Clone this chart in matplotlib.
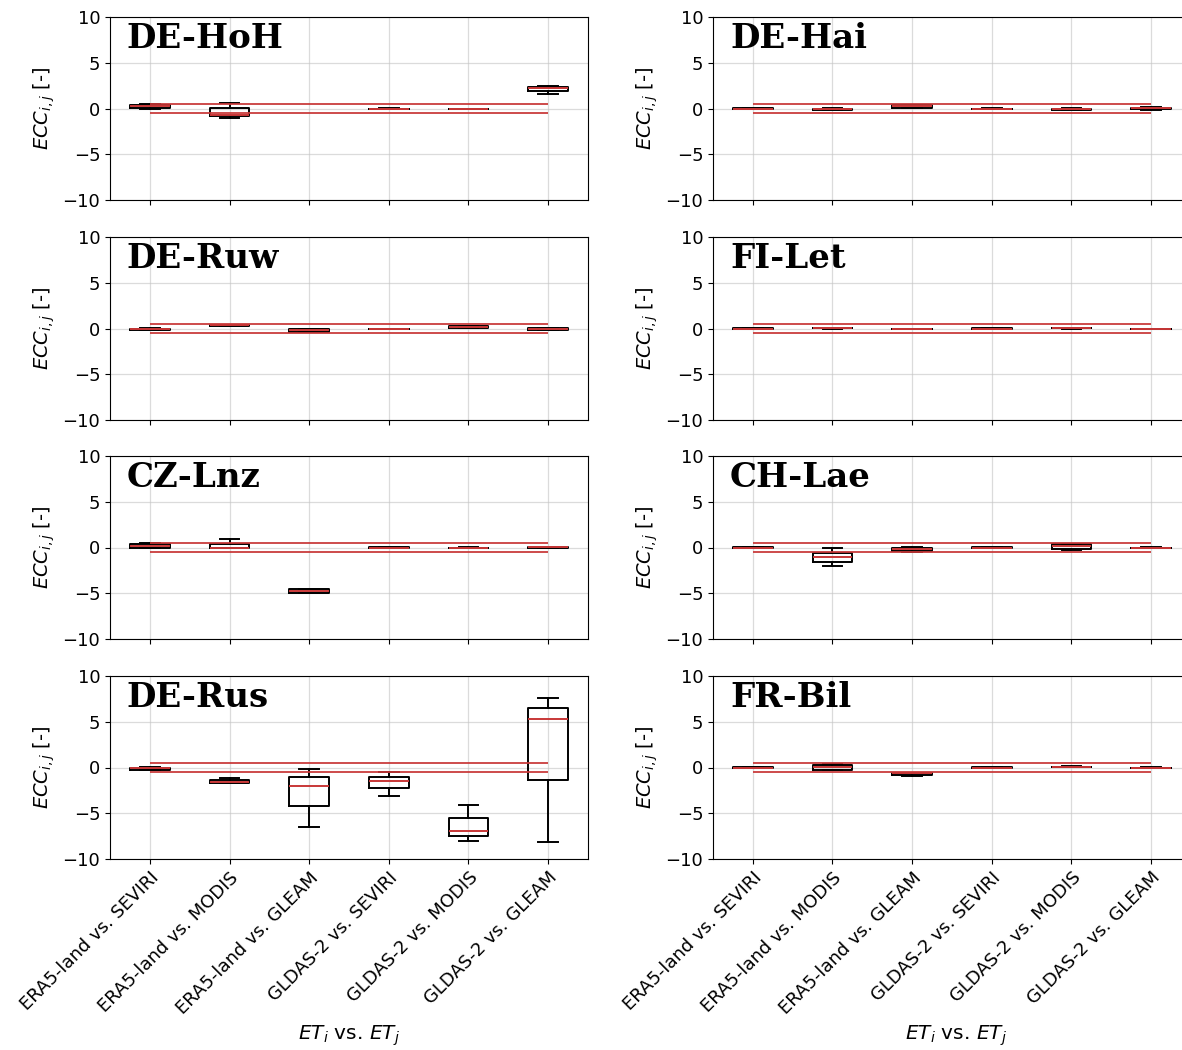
import numpy as np
import matplotlib.pyplot as plt

pairs = ['ERA5-land vs. SEVIRI', 'ERA5-land vs. MODIS', 'ERA5-land vs. GLEAM',
         'GLDAS-2 vs. SEVIRI', 'GLDAS-2 vs. MODIS', 'GLDAS-2 vs. GLEAM']

sites = ['DE-HoH', 'DE-Hai', 'DE-Ruw', 'FI-Let', 'CZ-Lnz', 'CH-Lae', 'DE-Rus', 'FR-Bil']

# box stats per site: (whislo, q1, med, q3, whishi) for each pair, None = no data
de_hoh = [(0.0, 0.1, 0.25, 0.4, 0.45), (-1.05, -0.85, -0.7, 0.05, 0.65), None,
          (-0.05, -0.03, -0.02, 0.0, 0.02), (-0.1, -0.07, -0.05, -0.03, 0.0),
          (1.6, 1.9, 2.28, 2.4, 2.45)]
de_hai = [(-0.08, -0.05, 0.0, 0.05, 0.08), (-0.18, -0.15, -0.07, 0.0, 0.03),
          (0.08, 0.1, 0.25, 0.36, 0.4), (-0.08, -0.05, -0.03, 0.0, 0.02),
          (-0.15, -0.12, -0.05, 0.0, 0.03), (-0.12, -0.1, 0.04, 0.1, 0.12)]
de_ruw = [(-0.18, -0.15, -0.07, 0.0, 0.03), (0.22, 0.25, 0.33, 0.4, 0.42),
          (-0.42, -0.38, -0.15, -0.07, -0.03), (-0.08, -0.06, -0.05, -0.02, 0.0),
          (0.08, 0.1, 0.15, 0.25, 0.28), (-0.18, -0.15, -0.05, 0.05, 0.08)]
fi_let = [(-0.04, -0.02, 0.0, 0.02, 0.04), (0.0, 0.02, 0.05, 0.08, 0.1),
          (-0.09, -0.07, -0.05, -0.03, -0.01), (-0.04, -0.02, 0.0, 0.02, 0.04),
          (0.0, 0.02, 0.05, 0.08, 0.1), (-0.09, -0.07, -0.05, -0.03, -0.01)]
cz_lnz = [(-0.05, -0.03, 0.15, 0.33, 0.5), (-0.1, -0.1, -0.05, 0.4, 0.95),
          (-4.95, -4.92, -4.73, -4.55, -4.5), (-0.04, -0.02, 0.0, 0.02, 0.04),
          (-0.05, -0.03, -0.02, 0.0, 0.02), (-0.08, -0.05, 0.05, 0.05, 0.08)]
ch_lae = [(-0.04, -0.02, 0.0, 0.02, 0.04), (-2.04, -1.6, -1.0, -0.58, -0.03),
          (-0.45, -0.4, -0.18, 0.0, 0.05), (-0.04, -0.02, 0.0, 0.02, 0.04),
          (-0.22, -0.18, 0.15, 0.33, 0.36), (-0.05, -0.04, -0.02, 0.0, 0.02)]
de_rus = [(-0.3, -0.25, -0.1, 0.0, 0.05), (-1.7, -1.65, -1.55, -1.35, -1.1),
          (-6.52, -4.25, -1.98, -1.06, -0.18), (-3.08, -2.27, -1.47, -0.99, -0.44),
          (-8.06, -7.51, -6.96, -5.49, -4.14), (-8.1, -1.36, 5.35, 6.48, 7.58)]
fr_bil = [(-0.08, -0.05, 0.0, 0.05, 0.08), (-0.25, -0.22, 0.05, 0.3, 0.33),
          (-0.9, -0.87, -0.65, -0.58, -0.55), (-0.04, -0.02, 0.0, 0.02, 0.04),
          (0.04, 0.06, 0.08, 0.1, 0.12), (-0.05, -0.04, -0.02, 0.0, 0.02)]

all_stats = [de_hoh, de_hai, de_ruw, fi_let, cz_lnz, ch_lae, de_rus, fr_bil]

threshold = 0.5
red = '#c83737'

fig = plt.figure(figsize=(11.82, 10.5), dpi=100)

W, H = 1182.0, 1050.0
lefts = [110, 713]
tops = [17, 237, 456, 676]
aw, ah = 478, 183

for k, (name, stats) in enumerate(zip(sites, all_stats)):
    r, c = k // 2, k % 2
    # right column runs a little past the figure edge, as in the original
    w = aw if c == 0 else aw + 8
    ax = fig.add_axes([lefts[c] / W, 1 - (tops[r] + ah) / H, w / W, ah / H])

    bxp_stats, pos = [], []
    for i, s in enumerate(stats):
        if s is None:
            continue
        lo, q1, med, q3, hi = s
        bxp_stats.append(dict(whislo=lo, q1=q1, med=med, q3=q3, whishi=hi, fliers=[]))
        pos.append(i + 1)

    ax.bxp(bxp_stats, positions=pos, widths=0.5, showfliers=False,
           boxprops=dict(color='black', lw=1.4),
           whiskerprops=dict(color='black', lw=1.4),
           capprops=dict(color='black', lw=1.4),
           medianprops=dict(color=red, lw=1.4))

    ax.hlines([threshold, -threshold], 1, len(pairs), colors=red, lw=1.4, alpha=0.9)

    ax.set_xlim(0.5, len(pairs) + 0.5 + (0 if c == 0 else 8 / 79.6))
    ax.set_ylim(-10, 10)
    ax.set_yticks([-10, -5, 0, 5, 10])
    ax.set_xticks(range(1, len(pairs) + 1))
    ax.grid(True, color='#c4c4c4', alpha=0.6, lw=0.9)
    ax.set_axisbelow(True)
    ax.tick_params(labelsize=13)
    ax.set_ylabel('$ECC_{i,j}$ [-]', fontsize=14)

    ax.text(0.035, 0.97, name, transform=ax.transAxes, va='top', ha='left',
            fontsize=24.5, fontweight='bold', family='DejaVu Serif')

    if r == 3:
        ax.set_xticklabels(pairs, rotation=45, ha='right', rotation_mode='anchor')
        ax.set_xlabel('$ET_i$ vs. $ET_j$', fontsize=14.5)
    else:
        ax.set_xticklabels([])

fig.savefig('out.png', dpi=100)
